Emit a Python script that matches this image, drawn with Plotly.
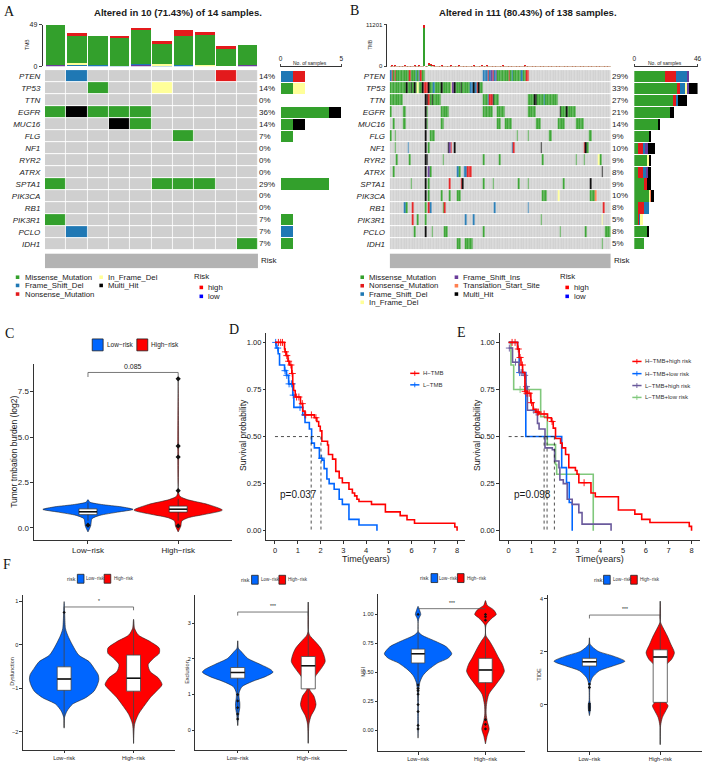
import plotly.graph_objects as go

W, H = 709, 776
FONT = "Liberation Sans"
SERIF = "Liberation Serif"

# mutation codes
NONE, M, F, N, I, H_, P, T = 0, 1, 2, 3, 4, 5, 6, 7
GREY = "#cfcfcf"
RISK_GREY = "#b3b3b3"
MUT_COLORS = [GREY, "#33a02c", "#1f78b4", "#e31a1c", "#ffff99", "#000000", "#6a3d9a", "#ff7f50"]
BLUE, RED = "#0066ff", "#ff0000"
GENES = ["PTEN", "TP53", "TTN", "EGFR", "MUC16", "FLG", "NF1", "RYR2", "ATRX", "SPTA1", "PIK3CA", "RB1", "PIK3R1", "PCLO", "IDH1"]

# ---- Panel A ----
A_PCT = ["14%", "14%", "0%", "36%", "14%", "7%", "0%", "0%", "0%", "29%", "0%", "0%", "7%", "7%", "7%"]
A_EVENTS = {
    "PTEN": [(1, F), (8, N)], "TP53": [(2, M), (5, I)], "TTN": [],
    "EGFR": [(0, M), (1, H_), (2, M), (3, M), (4, M)], "MUC16": [(3, H_), (4, M)],
    "FLG": [(6, M)], "NF1": [], "RYR2": [], "ATRX": [], "SPTA1": [(0, M), (5, M), (6, M), (7, M)],
    "PIK3CA": [], "RB1": [], "PIK3R1": [(0, M)], "PCLO": [(1, F)], "IDH1": [(9, M)],
}
A_TMB_P = [1, 0, 0, 0, 2, 0, 0, 0, 0, 1]
A_TMB_F = [0, 3, 1, 0.5, 1, 1.5, 1.5, 0, 0, 0]
A_TMB_I = [0, 0.5, 0, 0, 0, 0.8, 0, 1, 0, 0]
A_TMB_M = [48, 31.4, 34, 33.5, 39, 25.5, 34.5, 37, 20.3, 24.3]
A_TMB_N = [0, 4, 0, 1, 3, 1.7, 6, 2, 3, 0]
A_SIDE_ORDER = [M, F, N, I, H_]

# ---- Panel B ----
B_PCT = ["29%", "33%", "27%", "21%", "14%", "9%", "10%", "9%", "8%", "9%", "10%", "8%", "5%", "8%", "5%"]
B_EVENTS = {
    "PTEN": [(0, 0, F), (1, 1, N), (2, 2, M), (3, 3, N), (4, 11, M), (12, 12, N), (13, 15, M), (16, 16, F), (17, 17, M), (18, 18, F), (19, 19, N), (20, 21, M),
             (58, 60, F), (61, 61, N), (62, 62, F), (63, 63, P), (64, 64, N), (65, 65, F), (66, 66, P), (67, 73, M), (74, 74, N), (75, 75, M), (76, 76, F), (77, 81, M), (82, 82, F), (83, 84, M), (85, 86, N)],
    "TP53": [(0, 9, M), (10, 10, H_), (11, 12, M), (13, 13, H_), (14, 14, M), (15, 15, H_), (16, 16, M), (17, 17, I), (18, 19, M), (20, 20, H_), (21, 23, N), (24, 24, H_), (25, 26, M), (27, 27, F), (28, 31, M), (32, 32, H_), (33, 37, M), (38, 38, I), (39, 39, P), (40, 40, H_), (41, 43, M), (44, 44, H_), (45, 49, M), (50, 51, F), (52, 52, H_), (53, 53, F), (54, 54, N), (55, 55, H_), (56, 57, M)],
    "TTN": [(0, 7, M), (22, 23, H_), (24, 24, N), (25, 25, M), (26, 26, H_), (27, 31, M), (58, 60, M), (61, 61, F), (62, 63, N), (64, 64, H_), (65, 67, M), (86, 89, M), (90, 91, H_), (92, 95, M), (96, 96, F), (97, 104, M)],
    "EGFR": [(0, 0, M), (8, 9, M), (22, 22, H_), (23, 23, M), (32, 36, M), (58, 63, M), (67, 71, M), (86, 90, M), (106, 106, H_), (107, 109, M), (110, 110, H_), (111, 115, M)],
    "MUC16": [(2, 2, M), (8, 9, M), (22, 22, H_), (23, 23, M), (32, 33, M), (67, 68, M), (72, 75, M), (91, 93, M), (105, 108, M), (116, 120, M)],
    "FLG": [(0, 0, M), (3, 3, M), (22, 22, H_), (25, 27, M), (79, 79, M), (86, 86, M), (99, 100, M), (124, 125, M)],
    "NF1": [(3, 3, M), (11, 11, F), (22, 22, H_), (24, 24, M), (36, 36, H_), (37, 37, P), (38, 38, N), (40, 40, H_), (76, 76, F), (77, 77, N), (94, 94, H_), (121, 121, N), (122, 122, H_), (123, 123, M)],
    "RYR2": [(4, 4, M), (12, 12, M), (22, 23, H_), (33, 33, M), (58, 58, M), (68, 68, M), (95, 95, M), (116, 116, M), (121, 121, M), (130, 130, I), (131, 131, M)],
    "ATRX": [(2, 2, M), (22, 22, H_), (24, 24, P), (25, 25, M), (42, 42, F), (43, 43, M), (46, 47, F), (48, 50, N), (132, 132, H_)],
    "SPTA1": [(13, 13, M), (22, 22, H_), (24, 24, M), (37, 37, N), (44, 44, N), (45, 45, H_), (58, 58, M), (64, 64, M), (80, 80, M), (86, 86, M), (108, 108, M), (125, 125, H_)],
    "PIK3CA": [(22, 22, H_), (24, 24, M), (32, 32, M), (37, 37, M), (42, 43, M), (95, 97, M), (105, 105, I), (125, 127, M), (128, 128, T)],
    "RB1": [(9, 9, F), (10, 10, M), (14, 14, N), (22, 22, M), (24, 24, N), (25, 25, F), (33, 33, M), (34, 34, N), (65, 65, F), (86, 86, F), (133, 133, N)],
    "PIK3R1": [(14, 14, N), (17, 17, M), (22, 22, M), (47, 47, F), (52, 52, F), (94, 94, M), (132, 132, I)],
    "PCLO": [(15, 15, M), (22, 22, H_), (26, 26, M), (34, 35, M), (58, 58, M), (106, 106, M), (122, 122, M), (134, 137, M)],
    "IDH1": [(42, 43, M), (47, 51, M), (132, 132, M)],
}
B_TMB_M = [90, 120, 60, 140, 80, 70, 110, 50, 95, 130, 60, 85, 75, 100, 55, 120, 90, 65, 140, 80, 110,
           10200, 120, 95, 700, 500, 300, 130, 80, 60, 105, 90, 150, 70, 85, 110, 60, 95, 130, 75,
           100, 55, 85, 140, 70, 90, 120, 60, 80, 110, 95, 65, 130, 85, 70, 100, 60, 125, 90, 75,
           140, 55, 95, 110, 80, 65, 120, 70, 85, 100, 130, 60, 90, 75, 115, 55, 95, 80, 125, 70,
           60, 105, 90, 50, 130, 75, 85, 65, 110, 95, 55, 80, 120, 70, 60, 100, 85, 50, 90, 75,
           45, 110, 65, 80, 55, 95, 70, 60, 120, 85, 50, 75, 100, 60, 90, 45, 70, 110, 55, 80,
           65, 95, 50, 120, 75, 60, 85, 45, 70, 100, 55, 90, 65, 50, 80, 60, 45, 70]
B_TMB_N = [40, 60, 20, 50, 30, 20, 40, 20, 30, 60, 20, 30, 30, 40, 20, 50, 30, 20, 50, 30, 40,
           1000, 40, 30, 60, 40, 20, 50, 30, 20, 40, 30, 60, 20, 30, 40, 20, 30, 50, 30,
           40, 20, 30, 50, 20, 30, 40, 20, 30, 40, 30, 20, 50, 30, 20, 40, 20, 50, 30, 30,
           50, 20, 30, 40, 30, 20, 40, 20, 30, 40, 50, 20, 30, 30, 40, 20, 30, 30, 40, 20,
           20, 40, 30, 20, 50, 30, 30, 20, 40, 30, 20, 30, 40, 20, 20, 40, 30, 20, 30, 30,
           20, 40, 20, 30, 20, 30, 20, 20, 40, 30, 20, 30, 40, 20, 30, 20, 20, 40, 20, 30,
           20, 30, 20, 40, 30, 20, 30, 20, 20, 40, 20, 30, 20, 20, 30, 20, 20, 20]
B_SIDE_M = [22, 31, 28, 26, 18, 11, 3, 10, 3, 7, 11, 3, 3, 10, 7]
B_SIDE_N = [8, 2, 2, 0, 0, 0, 3, 0, 3, 2, 0, 4, 1, 0, 0]
B_SIDE_F = [8, 4, 2, 0, 0, 0, 2, 0, 3, 0, 0, 4, 1, 0, 0]
B_SIDE_I = [0, 2, 0, 0, 0, 0, 0, 1, 0, 0, 1, 0, 1, 0, 0]
B_SIDE_P = [2, 1, 0, 0, 0, 0, 2, 0, 1, 0, 0, 0, 0, 0, 0]
B_SIDE_T = [0, 0, 0, 0, 0, 0, 0, 0, 0, 0, 1, 0, 0, 0, 0]
B_SIDE_H = [0, 7, 6, 3, 1, 1, 5, 1, 2, 3, 1, 0, 0, 1, 0]

# ---- Panel C ----
C_LOW_Y = [1.56, 1.42, 1.29, 1.16, 1.02, 0.87, 0.69, 0.51, 0.29, 0.11, -0.22]
C_LOW_W = [0, 0.02, 0.15, 0.37, 0.5, 0.33, 0.13, 0.045, 0.035, 0.03, 0]
C_HIGH_Y = [8.3, 2.0, 1.74, 1.56, 1.29, 0.98, 0.74, 0.56, 0.38, 0.11, -0.22]
C_HIGH_W = [0, 0.003, 0.02, 0.1, 0.33, 0.49, 0.29, 0.11, 0.04, 0.03, 0]
C_BOX = {"low": (0.73, 0.89, 1.05, 0.4, 1.4), "high": (0.87, 1.03, 1.2, 0.4, 1.6)}
C_OUT_LOW = [0.15]
C_OUT_HIGH = [8.2, 4.5, 3.9, 2.05, 0.11]

# ---- Panels D and E: survival curves ----
D_H_T = [0, .42, .44, .5, .57, .64, .74, .78, .82, .89, 1.12, 1.22, 1.32, 1.73, 1.84, 1.92, 1.99, 2.06, 2.31, 2.35, 2.53, 2.67, 2.82, 2.96, 3.25, 3.4, 3.5, 3.6, 3.69, 4.24, 4.85, 5.5, 5.8, 6.13, 7.9, 8]
D_H_S = [1, .965, .95, .93, .90, .88, .835, .78, .745, .71, .675, .635, .615, .60, .58, .555, .53, .475, .455, .405, .38, .315, .28, .255, .22, .2, .185, .167, .155, .14, .10, .08, .058, .04, .02, 0]
D_H_C = [.15, .25, .33, .46, .52, .6, .7, .76, .95, 1.05, 1.2, 1.35, 1.6, 1.8]
D_L_T = [0, .05, .14, .2, .42, .5, .6, .78, .83, 1.22, 1.32, 1.51, 1.61, 1.73, 1.95, 2.09, 2.16, 2.28, 2.38, 2.6, 2.82, 2.96, 3.25, 3.69, 4.48]
D_L_S = [1, .97, .94, .88, .85, .825, .78, .72, .655, .615, .575, .54, .465, .44, .385, .375, .33, .275, .25, .22, .167, .14, .06, .03, 0]
D_L_C = [.03, .12, .44, .52, .62, .72, .76, .8, 1.1, 1.3, 2.05]

E_HH_T = [0, .39, .46, .54, .61, .71, .8, .97, 1.07, 1.19, 1.33, 1.7, 1.87, 1.95, 2.05, 2.27, 2.34, 2.49, 2.63, 2.92, 2.99, 3.07, 3.6, 3.79, 4.8, 5.52, 5.82, 6.18, 7.9, 8]
E_HH_S = [1, .965, .92, .88, .84, .74, .73, .68, .645, .63, .62, .60, .58, .545, .49, .465, .44, .405, .335, .32, .30, .255, .2, .18, .11, .088, .06, .044, .023, 0]
E_HH_C = [.15, .28, .42, .5, .6, .72, .8, .9, 1.0, 1.25, 1.3, 1.55, 1.7, 1.9, 3.3]
E_HL_T = [0, .39, .46, .75, 2.32, 2.53, 2.65, 2.78]
E_HL_S = [1, .965, .84, .5, .335, .256, .15, 0]
E_HL_C = [.48]
E_LH_T = [0, .17, .46, .68, .75, .82, 1.19, 1.26, 1.33, 1.59, 1.91, 2.01, 2.2, 2.24, 2.39, 2.56, 2.78, 3.07, 3.21, 4.48]
E_LH_S = [.97, .895, .84, .825, .765, .64, .63, .57, .54, .44, .43, .37, .335, .27, .25, .167, .14, .096, .035, 0]
E_LH_C = [.03, .3, .55, .62, .7, .78, 1.1, 1.2]
E_LL_T = [0, .1, .22, 1.4, 1.69, 2.05, 2.1, 3.7]
E_LL_S = [1, .88, .75, .606, .457, .352, .30, 0]
E_LL_C = [.5]

# ---- Panel F ----
F1_LOW_Y = [0.99, .37, .22, -.01, -.24, -.39, -.54, -.69, -.80, -.92, -1.07, -1.22, -1.37, -1.53, -1.68, -1.92]
F1_LOW_W = [0, .02, .05, .12, .21, .36, .43, .49, .5, .48, .43, .31, .12, .04, .005, 0]
F1_HIGH_Y = [.58, .37, .22, .07, -.08, -.2, -.31, -.46, -.62, -.77, -.92, -1.07, -1.22, -1.37, -1.6, -1.83, -2.27]
F1_HIGH_W = [0, .015, .07, .24, .37, .37, .29, .21, .24, .36, .41, .33, .24, .17, .07, .015, 0]
F1_BOX = {"low": (-1.05, -.79, -.51, -1.9, .72), "high": (-1.07, -.77, -.24, -2.27, .58)}
F1_OUT_LOW = [.74]
F1_OUT_HIGH = []

F2_LOW_Y = [2.51, 2.3, 2.21, 2.02, 1.84, 1.7, 1.63, 1.51, 1.37, 1.22, 1.05, .91, .77, .63, .45, .13]
F2_LOW_W = [0, .01, .05, .14, .33, .47, .5, .4, .21, .06, .02, .02, .03, .03, .015, 0]
F2_HIGH_Y = [3.6, 2.81, 2.67, 2.49, 2.3, 2.12, 1.93, 1.75, 1.51, 1.33, 1.14, .96, .72, .58, .4, .17, -.37]
F2_HIGH_W = [0, 0, .02, .1, .18, .22, .24, .19, .1, .05, .02, .08, .11, .09, .04, .01, 0]
F2_BOX = {"low": (1.46, 1.62, 1.76, .13, 2.51), "high": (1.16, 1.81, 2.07, -.37, 3.6)}
F2_OUT_LOW = [1.0, .82, .63, .45, .31]
F2_OUT_HIGH = []

F3_LOW_Y = [1.07, 1.04, 1.0, .97, .94, .85, .82, .77, .72, .66, .62, .58, .52, .47, .41, .34, .25, .08, -.07]
F3_LOW_W = [0, .02, .04, .015, .003, .005, .06, .25, .42, .5, .44, .29, .15, .07, .025, .01, .005, .005, 0]
F3_HIGH_Y = [1.12, 1.08, 1.04, 1.0, .97, .91, .82, .77, .71, .62, .57, .51, .47, .39, .31, .22, .14, .08, .01, -.05, -.12]
F3_HIGH_W = [0, .025, .12, .16, .1, .01, .005, .06, .12, .2, .25, .28, .25, .15, .05, .015, .01, .025, .055, .025, 0]
F3_BOX = {"low": (.58, .66, .7, .25, .85), "high": (.41, .52, .62, .08, .91)}
F3_OUT_LOW = [1.0, .39, .36, .34, .31, .22, .16, .04, .01]
F3_OUT_HIGH = [1.0, .98, .95, .09, .05, .01]

F4_LOW_Y = [2.52, 2.28, 2.02, 1.84, 1.64, 1.46, 1.28, 1.02, .78, .15, .03, -.16, -.41]
F4_LOW_W = [0, .01, .12, .33, .5, .33, .14, .04, .01, .005, .015, .015, 0]
F4_HIGH_Y = [3.9, 3.15, 2.9, 2.59, 2.28, 1.96, 1.71, 1.46, 1.15, .4, .15, -.04, -.22, -.48, -.79, -1.5]
F4_HIGH_W = [0, 0, .04, .1, .15, .2, .16, .07, .015, .015, .06, .11, .08, .03, .005, 0]
F4_BOX = {"low": (1.46, 1.62, 1.75, .9, 2.52), "high": (.09, 1.8, 2.07, -1.5, 3.9)}
F4_OUT_LOW = [.78, .65, .03, -.05, -.12, -.2]
F4_OUT_HIGH = []

# ===========================================================================
fig = go.Figure()
layout = {}
annots = []
shapes = []
axis_count = [0]


def axes(l, r, t, b, xr, yr, xo=None, yo=None):
    axis_count[0] += 1
    n = axis_count[0]
    s = "" if n == 1 else str(n)
    base = dict(showgrid=False, zeroline=False, showticklabels=False, ticks="", showline=False)
    xa = dict(base, domain=[l / W, r / W], range=list(xr), anchor="y" + s)
    ya = dict(base, domain=[1 - b / H, 1 - t / H], range=list(yr), anchor="x" + s)
    xa.update(xo or {})
    ya.update(yo or {})
    layout["xaxis" + s] = xa
    layout["yaxis" + s] = ya
    return "x" + s, "y" + s


def overlay_axes(l, r, t, b, xr, yr, xa, ya):
    return axes(l, r, t, b, xr, yr, xo=dict(overlaying=xa, visible=False), yo=dict(overlaying=ya, visible=False))


def text(px, py, s, size=8, anchor="left", color="#1a1a1a", angle=0, family=FONT):
    if anchor == "left":
        px -= 2
    annots.append(dict(x=px / W, y=1 - py / H, xref="paper", yref="paper", text=s, showarrow=False,
                       xanchor=anchor, yanchor="middle", textangle=angle,
                       font=dict(size=size, family=family, color=color)))


def square(px, py, size, color, line=None):
    shapes.append(dict(type="rect", xref="paper", yref="paper", x0=(px - size / 2) / W, x1=(px + size / 2) / W,
                       y0=1 - (py + size / 2) / H, y1=1 - (py - size / 2) / H, fillcolor=color,
                       line=dict(color=line or color, width=0.7 if line else 0)))


def key_box(l, r, t, b, color):
    shapes.append(dict(type="rect", xref="paper", yref="paper", x0=l / W, x1=r / W, y0=1 - b / H, y1=1 - t / H,
                       fillcolor=color, line=dict(color="#222222", width=0.8)))


def seg(x0, y0, x1, y1, color, width=1.5):
    shapes.append(dict(type="line", xref="paper", yref="paper", x0=x0 / W, x1=x1 / W, y0=1 - y0 / H, y1=1 - y1 / H,
                       line=dict(color=color, width=width)))


COLORSCALE = []
for i, c in enumerate(MUT_COLORS):
    COLORSCALE += [[i / 8, c], [(i + 1) / 8, c]]


def heat(z, xa, ya, xgap, ygap):
    fig.add_trace(go.Heatmap(z=z, xaxis=xa, yaxis=ya, colorscale=COLORSCALE, zmin=-0.5, zmax=7.5, showscale=False,
                             xgap=xgap, ygap=ygap, hoverinfo="skip"))


def risk_row(vals, xa, ya):
    fig.add_trace(go.Heatmap(z=[vals], xaxis=xa, yaxis=ya, colorscale=[[0, RISK_GREY], [1, RISK_GREY]], showscale=False,
                             hoverinfo="skip"))


def hbar(vals, color, xa, ya, name):
    fig.add_trace(go.Bar(x=vals, y=list(range(len(GENES))), orientation="h", marker=dict(color=color, line=dict(width=0)),
                         xaxis=xa, yaxis=ya, showlegend=False, name=name, hoverinfo="skip"))


def vbar(vals, color, xa, ya, name):
    fig.add_trace(go.Bar(y=vals, x=list(range(len(vals))), marker=dict(color=color, line=dict(width=0)),
                         xaxis=xa, yaxis=ya, showlegend=False, name=name, hoverinfo="skip"))


GT, GB = 66.7, 248.2
YR = [len(GENES) - 0.5, -0.5]
gene_ticks = dict(showticklabels=True, tickmode="array", tickvals=list(range(len(GENES))),
                  ticktext=[f"<i>{g}</i>" for g in GENES], tickfont=dict(size=8, family=FONT, color="#1a1a1a"),
                  ticks="outside", ticklen=2, tickcolor="rgba(0,0,0,0)", showline=False)

# ---- A oncoplot ----
A_N = len(A_TMB_M)
a_z = [[NONE] * A_N for _ in GENES]
for gi, g in enumerate(GENES):
    for col, code in A_EVENTS[g]:
        a_z[gi][col] = code
xa, ya = axes(43.3, 258.3, GT, GB, (-.5, A_N - .5), YR, yo=gene_ticks)
heat(a_z, xa, ya, 0.8, 1)
for gi, p in enumerate(A_PCT):
    annots.append(dict(x=257.5 / W, xref="paper", y=gi, yref=ya, text=p, showarrow=False, xanchor="left",
                       font=dict(size=8, family=FONT, color="#1a1a1a")))
xa, ya = axes(43.3, 258.3, 251.7, 266.7, (-.5, A_N - .5), (-.5, .5))
risk_row([0] * A_N, xa, ya)
text(261, 259, "Risk", 8)
xa, ya = axes(43.3, 258.3, 20.7, 62.7, (-.5, A_N - .5), (0, 49),
              yo=dict(anchor="free", position=40 / W, showline=True, linecolor="#333333", linewidth=0.8, ticks="outside",
                      ticklen=3, tickvals=[0, 49], showticklabels=True, tickfont=dict(size=7, family=FONT, color="#1a1a1a")))
for vals, c, nm in [(A_TMB_P, MUT_COLORS[P], "P"), (A_TMB_F, MUT_COLORS[F], "F"), (A_TMB_I, MUT_COLORS[I], "I"),
                    (A_TMB_M, MUT_COLORS[M], "M"), (A_TMB_N, MUT_COLORS[N], "N")]:
    vbar(vals, c, xa, ya, nm)
text(24.5, 41, "TMB", 5, "center", angle=-90)
side_x = dict(showline=True, linecolor="#333333", linewidth=0.8, anchor="free", position=1 - 63 / H, side="top",
              ticks="outside", ticklen=2.5, showticklabels=True, tickfont=dict(size=6.5, family=FONT, color="#1a1a1a"))
xa, ya = axes(281, 342.3, GT, GB, (0, 5), YR, xo=dict(side_x, tickvals=[0, 5]))
for code in A_SIDE_ORDER:
    hbar([sum(1 for _, k in A_EVENTS[g] if k == code) for g in GENES], MUT_COLORS[code], xa, ya, str(code))
text(311, 59.3, "No. of samples", 5, "center")

# ---- B oncoplot ----
B_N = len(B_TMB_M)
b_z = [[NONE] * B_N for _ in GENES]
for gi, g in enumerate(GENES):
    for first, last, code in B_EVENTS[g]:
        for col in range(first, last + 1):
            b_z[gi][col] = code
xa, ya = axes(391, 614, GT, GB, (-.5, B_N - .5), YR, yo=gene_ticks)
heat(b_z, xa, ya, 0.25, 1)
for gi, p in enumerate(B_PCT):
    annots.append(dict(x=613.2 / W, xref="paper", y=gi, yref=ya, text=p, showarrow=False, xanchor="left",
                       font=dict(size=8, family=FONT, color="#1a1a1a")))
xa, ya = axes(391, 614, 251.7, 266.7, (-.5, B_N - .5), (-.5, .5))
risk_row([0] * B_N, xa, ya)
text(617.3, 259, "Risk", 8)
xa, ya = axes(391, 614, 20.7, 62.7, (-.5, B_N - .5), (0, 11201),
              yo=dict(anchor="free", position=387.7 / W, showline=True, linecolor="#333333", linewidth=0.8, ticks="outside",
                      ticklen=3, tickmode="array", tickvals=[0, 11201], ticktext=["0", "11201"], showticklabels=True,
                      tickfont=dict(size=6, family=FONT, color="#1a1a1a")))
vbar(B_TMB_M, MUT_COLORS[M], xa, ya, "M")
vbar(B_TMB_N, MUT_COLORS[N], xa, ya, "N")
text(372, 41, "TMB", 4.5, "center", angle=-90)
xa, ya = axes(637.7, 701.5, GT, GB, (0, 46), YR, xo=dict(side_x, tickvals=[0, 46]))
for vals, code in [(B_SIDE_M, M), (B_SIDE_N, N), (B_SIDE_F, F), (B_SIDE_I, I), (B_SIDE_P, P), (B_SIDE_T, T), (B_SIDE_H, H_)]:
    hbar(vals, MUT_COLORS[code], xa, ya, str(code))
text(669, 59.3, "No. of samples", 5, "center")

# titles and letters
text(177, 9, "<b>Altered in 10 (71.43%) of 14 samples.</b>", 9.6, "center")
text(530, 9, "<b>Altered in 111 (80.43%) of 138 samples.</b>", 9.6, "center")
for lx, ly, s in [(2, 8, "A"), (351, 7, "B"), (3, 332, "C"), (229, 328, "D"), (459, 331, "E"), (1, 566, "F")]:
    text(lx, ly, s, 14, family=SERIF, color="#111111")

# oncoplot legends
for py, sx, tx, c, s in [(275.7, 15.7, 22.7, M, "Missense_Mutation"), (284, 15.7, 22.7, F, "Frame_Shift_Del"),
                         (292.7, 15.7, 22.7, N, "Nonsense_Mutation"), (275.7, 100, 107.3, I, "In_Frame_Del"),
                         (284, 100, 107.3, H_, "Multi_Hit"),
                         (275.7, 363.3, 370.3, M, "Missense_Mutation"), (284.3, 363.3, 370.3, N, "Nonsense_Mutation"),
                         (292.7, 363.3, 370.3, F, "Frame_Shift_Del"), (301, 363.3, 370.3, I, "In_Frame_Del"),
                         (275.7, 458.3, 465.3, P, "Frame_Shift_Ins"), (284.3, 458.3, 465.3, T, "Translation_Start_Site"),
                         (292.7, 458.3, 465.3, H_, "Multi_Hit")]:
    square(sx, py, 3.6, MUT_COLORS[c])
    text(tx, py, s, 7.8)
for rx, sx, tx in [(194, 201, 207.7), (562.7, 570, 576.7)]:
    text(rx, 275, "Risk", 7.8)
    square(sx, 286, 3.6, "#ff0000")
    text(tx, 286, "high", 7.8)
    square(sx, 295, 3.6, "#0000ff")
    text(tx, 295, "low", 7.8)


# ---- violins ----
def violin(xa, ya, ox, oy, c, ys, ws, color, name, box, out, box_color, med_w, out_size=2.5):
    x = [c + w for w in ws] + [c - w for w in reversed(ws)]
    y = list(ys) + list(reversed(ys))
    fig.add_trace(go.Scatter(x=x, y=y, xaxis=xa, yaxis=ya, mode="lines", fill="toself", fillcolor=color,
                             line=dict(color="#222222", width=0.6, shape="spline", smoothing=0.7),
                             name=name, showlegend=False, hoverinfo="skip"))
    q1, med, q3, lo, hi = box
    fig.add_trace(go.Box(x=[c], q1=[q1], median=[med], q3=[q3], lowerfence=[lo], upperfence=[hi], width=0.2,
                         xaxis=ox, yaxis=oy, fillcolor="white", line=dict(color=box_color, width=0.8), whiskerwidth=0,
                         boxpoints=False, showlegend=False, name=name, hoverinfo="skip"))
    fig.add_trace(go.Scatter(x=[c - .1, c + .1], y=[med, med], xaxis=ox, yaxis=oy, mode="lines",
                             line=dict(color="#111111", width=med_w), showlegend=False, hoverinfo="skip"))
    if out:
        fig.add_trace(go.Scatter(x=[c] * len(out), y=out, xaxis=ox, yaxis=oy, mode="markers",
                                 marker=dict(color="#111111", size=out_size, symbol="diamond"),
                                 showlegend=False, hoverinfo="skip"))


def bracket(xa, ya, top, tip, label, size, dy=0.0):
    fig.add_trace(go.Scatter(x=[1, 1, 2, 2], y=[tip, top, top, tip], xaxis=xa, yaxis=ya, mode="lines",
                             line=dict(color="#555555", width=0.8), showlegend=False, hoverinfo="skip"))
    annots.append(dict(x=1.5, y=top, xref=xa, yref=ya, text=label, showarrow=False, yanchor="bottom", yshift=dy,
                       font=dict(size=size, family=FONT, color="#1a1a1a")))


def gg(size, vals, labels=None, line_w=0.9, tl=2.5):
    d = dict(showline=True, linecolor="#333333", linewidth=line_w, ticks="outside", ticklen=tl, tickwidth=0.7, tickcolor="#333333",
             showticklabels=True, tickmode="array", tickvals=vals, tickfont=dict(size=size, family=FONT, color="#1a1a1a"))
    if labels:
        d["ticktext"] = labels
    return d


RISK = ["Low\u2212risk", "High\u2212risk"]
# C
C_BOXPOS = (32.3, 232, 363, 541, (.402, 2.597), (-.67, 9.03))
xa, ya = axes(*C_BOXPOS, xo=gg(8, [1, 2], RISK, 1.1), yo=gg(8, [0, 2.5, 5, 7.5], ["0.0", "2.5", "5.0", "7.5"], 1.1))
ox, oy = overlay_axes(*C_BOXPOS, xa, ya)
violin(xa, ya, ox, oy, 1, C_LOW_Y, C_LOW_W, BLUE, RISK[0], C_BOX["low"], C_OUT_LOW, "#333333", 1.4, 4)
violin(xa, ya, ox, oy, 2, C_HIGH_Y, C_HIGH_W, RED, RISK[1], C_BOX["high"], C_OUT_HIGH, "#333333", 1.4, 4)
bracket(xa, ya, 8.55, 8.3, "0.085", 7)
text(12, 452, "Tumor tmbation burden (log2)", 8.5, "center", angle=-90)
key_box(91, 102, 338, 350, BLUE)
text(106, 344, "Low\u2212risk", 6.5)
key_box(136, 147, 338, 350, RED)
text(150.5, 344, "High\u2212risk", 6.5)


# survival
def km(xa, ya, t, s, cens, color, name, w=1.6):
    xs, ys = list(t), list(s)
    xm, ym = [], []
    for c in cens:
        idx = max(i for i, v in enumerate(t) if v <= c)
        xm.append(c)
        ym.append(s[idx])
    fig.add_trace(go.Scatter(x=xs, y=ys, xaxis=xa, yaxis=ya, mode="lines", line=dict(color=color, width=w, shape="hv"),
                             name=name, showlegend=False, hoverinfo="skip"))
    fig.add_trace(go.Scatter(x=xm, y=ym, xaxis=xa, yaxis=ya, mode="markers", showlegend=False, hoverinfo="skip",
                             marker=dict(symbol="cross-thin", size=5, line=dict(color=color, width=0.9))))


def dashes(xa, ya, medians):
    fig.add_trace(go.Scatter(x=[0, max(medians)], y=[.5, .5], xaxis=xa, yaxis=ya, mode="lines",
                             line=dict(color="#222222", width=0.8, dash="3px,3px"), showlegend=False, hoverinfo="skip"))
    for m in medians:
        fig.add_trace(go.Scatter(x=[m, m], y=[.5, 0], xaxis=xa, yaxis=ya, mode="lines",
                                 line=dict(color="#222222", width=0.8, dash="3px,3px"), showlegend=False, hoverinfo="skip"))


SURV_Y = [0, .25, .5, .75, 1]
SURV_L = ["0.00", "0.25", "0.50", "0.75", "1.00"]
YEARS = list(range(9))
xa, ya = axes(266.7, 467, 332, 541, (-.375, 8.35), (-.05, 1.05), xo=gg(7.5, YEARS, line_w=1), yo=gg(7.5, SURV_Y, SURV_L, 1))
km(xa, ya, D_L_T, D_L_S, D_L_C, BLUE, "L\u2212TMB")
km(xa, ya, D_H_T, D_H_S, D_H_C, RED, "H\u2212TMB")
dashes(xa, ya, [1.59, 2.02])
annots.append(dict(x=.15, y=.19, xref=xa, yref=ya, text="p=0.037", showarrow=False, xanchor="left",
                   font=dict(size=10, family=FONT, color="#1a1a1a")))
text(243, 435, "Survival probability", 8.5, "center", angle=-90)
text(367, 560.5, "Time(years)", 9, "center")
for py, c, s in [(372.7, RED, "H\u2212TMB"), (384.3, BLUE, "L\u2212TMB")]:
    seg(411.7, py, 421, py, c)
    seg(416.3, py - 2.5, 416.3, py + 2.5, c, 0.9)
    text(424.3, py, s, 6, color="#333333")

xa, ya = axes(502, 703.5, 332, 541, (-.39, 8.35), (-.05, 1.05), xo=gg(7.5, YEARS, line_w=1), yo=gg(7.5, SURV_Y, SURV_L, 1))
E_COLORS = [RED, BLUE, "#6a5a9c", "#80c87c"]
km(xa, ya, E_LL_T, E_LL_S, E_LL_C, E_COLORS[3], "L\u2212TMB+low risk")
km(xa, ya, E_HL_T, E_HL_S, E_HL_C, E_COLORS[1], "H\u2212TMB+low risk")
km(xa, ya, E_LH_T, E_LH_S, E_LH_C, E_COLORS[2], "L\u2212TMB+high risk")
km(xa, ya, E_HH_T, E_HH_S, E_HH_C, E_COLORS[0], "H\u2212TMB+high risk")
dashes(xa, ya, [1.55, 1.68, 2.0])
annots.append(dict(x=.15, y=.19, xref=xa, yref=ya, text="p=0.098", showarrow=False, xanchor="left",
                   font=dict(size=10, family=FONT, color="#1a1a1a")))
text(479, 435, "Survival probability", 8.5, "center", angle=-90)
text(603.5, 560.5, "Time(years)", 9, "center")
for py, c, s in [(360.7, E_COLORS[0], "H\u2212TMB+high risk"), (373, E_COLORS[1], "H\u2212TMB+low risk"),
                 (385, E_COLORS[2], "L\u2212TMB+high risk"), (397, E_COLORS[3], "L\u2212TMB+low risk")]:
    seg(635.7, py, 645, py, c)
    seg(640.3, py - 2.5, 640.3, py + 2.5, c, 0.9)
    text(648, py, s, 6, color="#333333")

# F
F_PANELS = [
    dict(box=(21, 174, 596, 752.7), xr=(.405, 2.59), yr=(-2.42, 1.15), ticks=[-2, -1, 0, 1], tl=None, low=(F1_LOW_Y, F1_LOW_W), high=(F1_HIGH_Y, F1_HIGH_W),
         stats=F1_BOX, out=(F1_OUT_LOW, F1_OUT_HIGH), br=(.866, .79), mark="*", title="Dysfunction", tx=10, ty=673,
         leg=(66, 76, 85, 103, 113, 580)),
    dict(box=(195, 348, 596, 752.7), xr=(.40, 2.55), yr=(-.557, 3.81), ticks=[0, 1, 2, 3], tl=None, low=(F2_LOW_Y, F2_LOW_W), high=(F2_HIGH_Y, F2_HIGH_W),
         stats=F2_BOX, out=(F2_OUT_LOW, F2_OUT_HIGH), br=(3.32, 3.22), mark="***", title="Exclusion", tx=186.5, ty=674,
         leg=(241.5, 251.7, 261, 279.3, 288.5, 581)),
    dict(box=(379.3, 527.7, 595, 754), xr=(.407, 2.59), yr=(-.183, 1.18), ticks=[0, .25, .5, .75, 1], tl=["0.00", "0.25", "0.50", "0.75", "1.00"],
         low=(F3_LOW_Y, F3_LOW_W), high=(F3_HIGH_Y, F3_HIGH_W),
         stats=F3_BOX, out=(F3_OUT_LOW, F3_OUT_HIGH), br=(1.05, 1.05), mark="***", title="MSI", tx=364, ty=674,
         leg=(421.7, 432.7, 441, 459.3, 469, 579.3)),
    dict(box=(550.3, 706, 596, 754), xr=(.41, 2.59), yr=(-1.75, 4.15), ticks=[0, 2, 4], tl=None, low=(F4_LOW_Y, F4_LOW_W), high=(F4_HIGH_Y, F4_HIGH_W),
         stats=F4_BOX, out=(F4_OUT_LOW, F4_OUT_HIGH), br=(3.38, 3.25), mark="***", title="TIDE", tx=541.5, ty=676,
         leg=(596.7, 606.7, 615.7, 634, 643.3, 581)),
]
for p in F_PANELS:
    l, r, t, b = p["box"]
    xa, ya = axes(l, r, t, b, p["xr"], p["yr"], xo=gg(5.5, [1, 2], RISK), yo=gg(5.5, p["ticks"], p["tl"]))
    ox, oy = overlay_axes(l, r, t, b, p["xr"], p["yr"], xa, ya)
    violin(xa, ya, ox, oy, 1, p["low"][0], p["low"][1], BLUE, RISK[0], p["stats"]["low"], p["out"][0], "#444444", 1.5)
    violin(xa, ya, ox, oy, 2, p["high"][0], p["high"][1], RED, RISK[1], p["stats"]["high"], p["out"][1], "#444444", 1.5)
    bracket(xa, ya, p["br"][0], p["br"][1], p["mark"], 5, dy=1)
    text(p["tx"], p["ty"], p["title"], 5.5, "center", angle=-90, color="#333333")
    rx, bx, btx, ox_, otx, ly = p["leg"]
    text(rx, ly, "risk", 5.5, color="#333333")
    key_box(bx, bx + 6.7, ly - 4.5, ly + 4.5, BLUE)
    text(btx, ly, "Low\u2212risk", 4.5, color="#333333")
    key_box(ox_, ox_ + 6.7, ly - 4.5, ly + 4.5, RED)
    text(otx, ly, "High\u2212risk", 4.5, color="#333333")

fig.update_layout(width=W, height=H, margin=dict(l=0, r=0, t=0, b=0, pad=0), paper_bgcolor="white", plot_bgcolor="white",
                  barmode="stack", bargap=0.08, boxmode="overlay", showlegend=False, annotations=annots, shapes=shapes,
                  font=dict(family=FONT), **layout)
fig.write_html("out.html", config={"displayModeBar": False}, post_script="document.body.style.margin='0';")
